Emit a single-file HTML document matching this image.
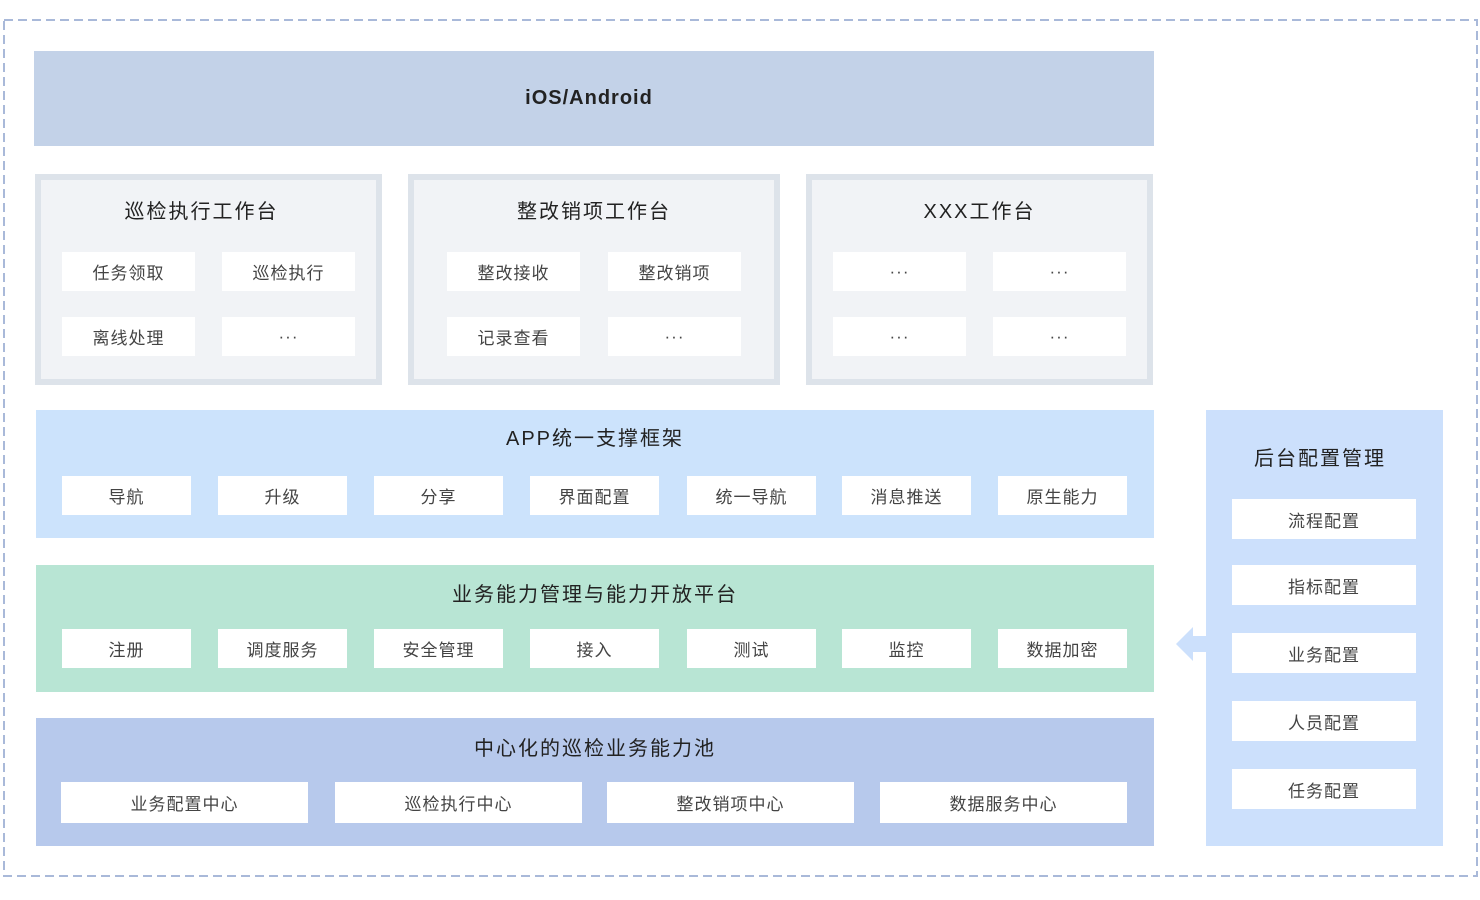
<!DOCTYPE html>
<html><head><meta charset="utf-8"><style>
*{margin:0;padding:0;box-sizing:border-box}
body{width:1480px;height:900px;background:#fff;position:relative;overflow:hidden;font-family:"Liberation Sans","Noto Sans CJK SC",sans-serif}
.a{position:absolute}
.c{position:absolute;background:#fff;color:#444;font-size:17px;display:flex;align-items:center;justify-content:center;letter-spacing:1px}
.t{position:absolute;color:#222;font-size:20px;text-align:center;letter-spacing:2px;line-height:24px}
.wb{position:absolute;background:#f1f3f6;border:6px solid #dde3ea}
</style></head><body>
<svg class="a" style="left:0;top:0" width="1480" height="900"><rect x="4" y="20" width="1473" height="856" fill="none" stroke="#a9b9d9" stroke-width="2" stroke-dasharray="9 5"/></svg>
<div class="a" style="left:34px;top:51px;width:1120px;height:95px;background:#c3d2e8"></div>
<div class="t" style="left:34px;top:86px;width:1110px;font-weight:bold;font-size:20px;letter-spacing:1px">iOS/Android</div>

<div class="wb" style="left:35px;top:174px;width:347px;height:211px"></div>
<div class="t" style="left:35px;top:200px;width:333px">巡检执行工作台</div>
<div class="c" style="left:62px;top:252px;width:133px;height:39px">任务领取</div>
<div class="c" style="left:222px;top:252px;width:133px;height:39px">巡检执行</div>
<div class="c" style="left:62px;top:317px;width:133px;height:39px">离线处理</div>
<div class="c" style="left:222px;top:317px;width:133px;height:39px">···</div>

<div class="wb" style="left:408px;top:174px;width:372px;height:211px"></div>
<div class="t" style="left:408px;top:200px;width:372px">整改销项工作台</div>
<div class="c" style="left:447px;top:252px;width:133px;height:39px">整改接收</div>
<div class="c" style="left:608px;top:252px;width:133px;height:39px">整改销项</div>
<div class="c" style="left:447px;top:317px;width:133px;height:39px">记录查看</div>
<div class="c" style="left:608px;top:317px;width:133px;height:39px">···</div>

<div class="wb" style="left:806px;top:174px;width:347px;height:211px"></div>
<div class="t" style="left:806px;top:200px;width:347px">XXX工作台</div>
<div class="c" style="left:833px;top:252px;width:133px;height:39px">···</div>
<div class="c" style="left:993px;top:252px;width:133px;height:39px">···</div>
<div class="c" style="left:833px;top:317px;width:133px;height:39px">···</div>
<div class="c" style="left:993px;top:317px;width:133px;height:39px">···</div>

<div class="a" style="left:36px;top:410px;width:1118px;height:128px;background:#cce3fc"></div>
<div class="t" style="left:36px;top:427px;width:1118px">APP统一支撑框架</div>
<div class="c" style="left:62px;top:476px;width:129px;height:39px">导航</div>
<div class="c" style="left:218px;top:476px;width:129px;height:39px">升级</div>
<div class="c" style="left:374px;top:476px;width:129px;height:39px">分享</div>
<div class="c" style="left:530px;top:476px;width:129px;height:39px">界面配置</div>
<div class="c" style="left:687px;top:476px;width:129px;height:39px">统一导航</div>
<div class="c" style="left:842px;top:476px;width:129px;height:39px">消息推送</div>
<div class="c" style="left:998px;top:476px;width:129px;height:39px">原生能力</div>

<div class="a" style="left:36px;top:565px;width:1118px;height:127px;background:#b8e5d4"></div>
<div class="t" style="left:36px;top:583px;width:1118px">业务能力管理与能力开放平台</div>
<div class="c" style="left:62px;top:629px;width:129px;height:39px">注册</div>
<div class="c" style="left:218px;top:629px;width:129px;height:39px">调度服务</div>
<div class="c" style="left:374px;top:629px;width:129px;height:39px">安全管理</div>
<div class="c" style="left:530px;top:629px;width:129px;height:39px">接入</div>
<div class="c" style="left:687px;top:629px;width:129px;height:39px">测试</div>
<div class="c" style="left:842px;top:629px;width:129px;height:39px">监控</div>
<div class="c" style="left:998px;top:629px;width:129px;height:39px">数据加密</div>

<div class="a" style="left:36px;top:718px;width:1118px;height:128px;background:#b7c9ec"></div>
<div class="t" style="left:36px;top:737px;width:1118px">中心化的巡检业务能力池</div>
<div class="c" style="left:61px;top:782px;width:247px;height:41px">业务配置中心</div>
<div class="c" style="left:335px;top:782px;width:247px;height:41px">巡检执行中心</div>
<div class="c" style="left:607px;top:782px;width:247px;height:41px">整改销项中心</div>
<div class="c" style="left:880px;top:782px;width:247px;height:41px">数据服务中心</div>

<div class="a" style="left:1206px;top:410px;width:237px;height:436px;background:#cce0fc"></div>
<div class="t" style="left:1206px;top:447px;width:228px">后台配置管理</div>
<div class="c" style="left:1232px;top:499px;width:184px;height:40px">流程配置</div>
<div class="c" style="left:1232px;top:565px;width:184px;height:40px">指标配置</div>
<div class="c" style="left:1232px;top:633px;width:184px;height:40px">业务配置</div>
<div class="c" style="left:1232px;top:701px;width:184px;height:40px">人员配置</div>
<div class="c" style="left:1232px;top:769px;width:184px;height:40px">任务配置</div>
<svg class="a" style="left:0;top:0" width="1480" height="900"><polygon points="1176,644 1193,627 1193,636 1207,636 1207,652 1193,652 1193,661" fill="#cce0fc"/></svg>
</body></html>
